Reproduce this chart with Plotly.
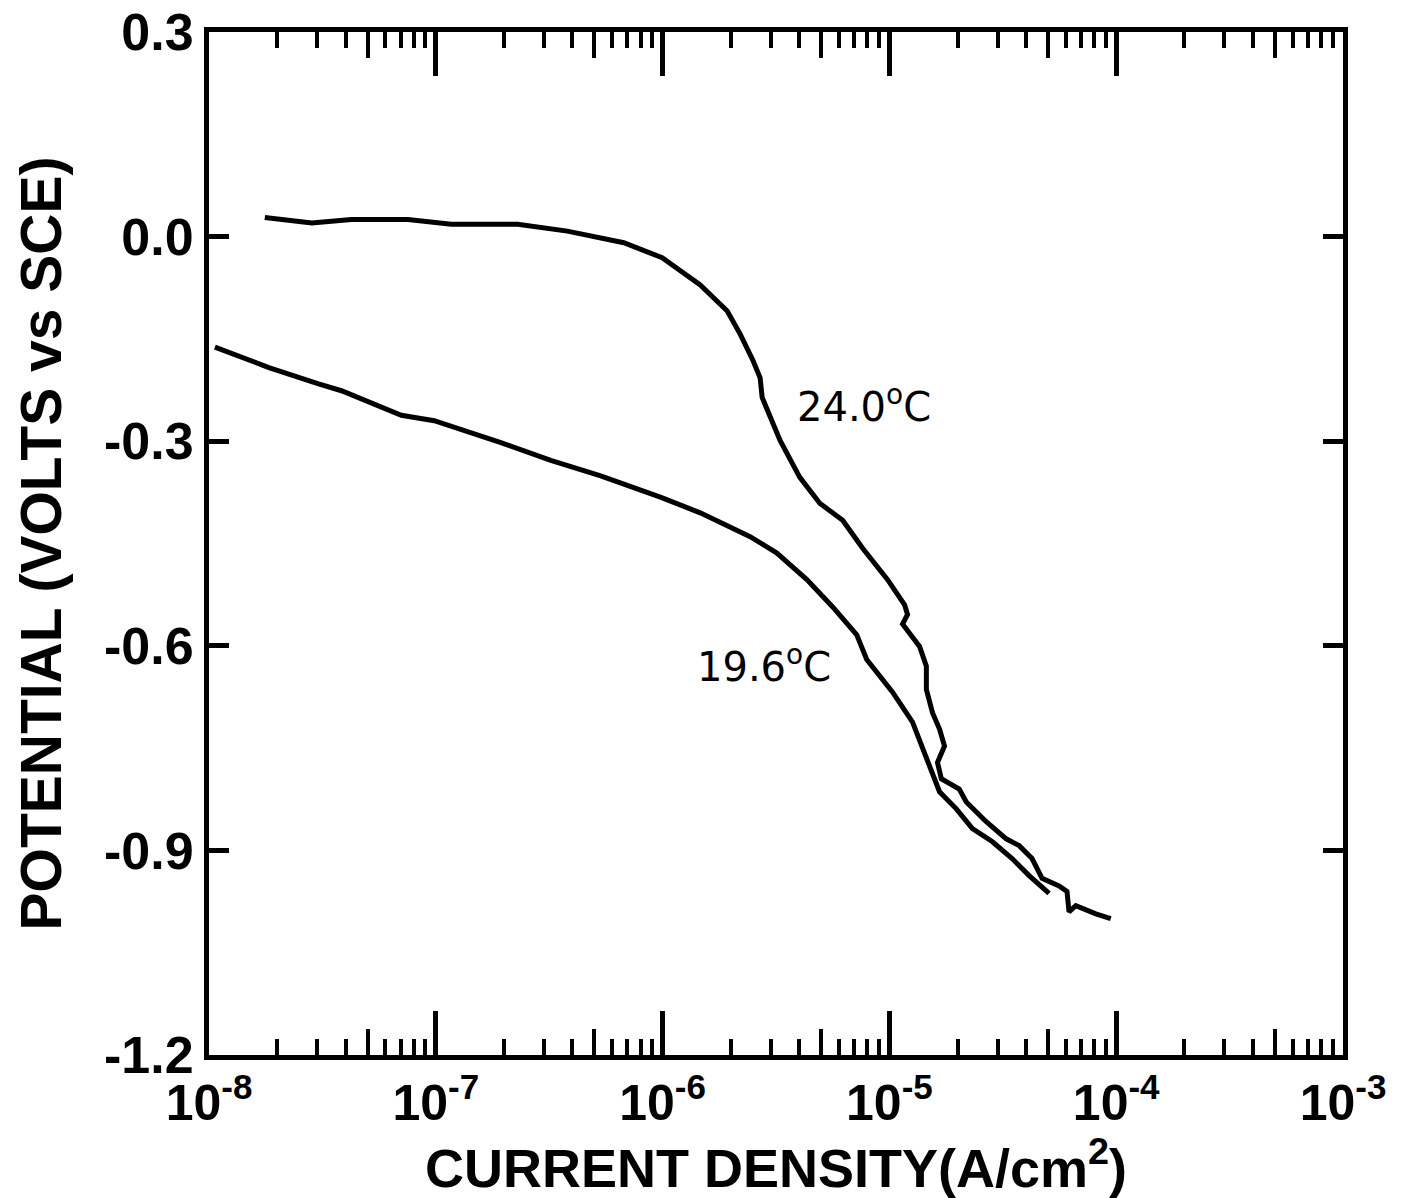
import numpy as np
import plotly.graph_objects as go

# ---- data ----
# 24.0 °C polarization curve: log10 of current density (A/cm^2) and potential (V vs SCE)
t24_log_i = [-7.754, -7.547, -7.372, -7.123, -6.932, -6.639, -6.420, -6.171, -6.002,
             -5.834, -5.715, -5.658, -5.601, -5.570, -5.561, -5.526, -5.482, -5.395,
             -5.307, -5.206, -5.118, -5.008, -4.933, -4.920, -4.942, -4.867, -4.837,
             -4.837, -4.810, -4.779, -4.757, -4.788, -4.771, -4.692, -4.661, -4.573,
             -4.485, -4.428, -4.371, -4.327, -4.252, -4.217, -4.208, -4.178, -4.090,
             -4.024]
t24_potential = [0.028, 0.020, 0.025, 0.025, 0.018, 0.018, 0.008, -0.009, -0.031,
                 -0.071, -0.109, -0.143, -0.182, -0.207, -0.236, -0.265, -0.299, -0.353,
                 -0.391, -0.416, -0.457, -0.503, -0.540, -0.554, -0.568, -0.601, -0.630,
                 -0.664, -0.698, -0.722, -0.747, -0.771, -0.795, -0.810, -0.829, -0.858,
                 -0.883, -0.893, -0.912, -0.941, -0.952, -0.960, -0.990, -0.981, -0.993,
                 -1.000]

# 19.6 °C polarization curve
t196_log_i = [-7.974, -7.736, -7.517, -7.416, -7.152, -7.007, -6.713, -6.493, -6.273,
              -6.010, -5.834, -5.614, -5.496, -5.364, -5.250, -5.144, -5.100, -4.986,
              -4.898, -4.837, -4.779, -4.705, -4.634, -4.547, -4.459, -4.384, -4.296]
t196_potential = [-0.162, -0.192, -0.216, -0.226, -0.262, -0.270, -0.302, -0.328, -0.351,
                  -0.382, -0.405, -0.440, -0.464, -0.503, -0.543, -0.584, -0.620, -0.668,
                  -0.712, -0.762, -0.814, -0.839, -0.868, -0.887, -0.912, -0.937, -0.963]

x_tick_exponents = [-8, -7, -6, -5, -4, -3]
x_tick_labels = ["10<sup>-8</sup>", "10<sup>-7</sup>", "10<sup>-6</sup>",
                 "10<sup>-5</sup>", "10<sup>-4</sup>", "10<sup>-3</sup>"]
y_tick_values = [0.3, 0.0, -0.3, -0.6, -0.9, -1.2]
y_tick_labels = ["0.3", "0.0", "-0.3", "-0.6", "-0.9", "-1.2"]

curve_labels = ["24.0<sup>o</sup>C", "19.6<sup>o</sup>C"]
label_log_i = [-5.417, -5.856]
label_potential = [-0.246, -0.626]

# ---- figure ----
x_major = [10.0 ** e for e in x_tick_exponents]
x_minor = [m * 10.0 ** e for e in x_tick_exponents[:-1] for m in (2, 3, 4, 6, 7, 8, 9)]
x_five = [5 * 10.0 ** e for e in x_tick_exponents[:-1]]

FONT = "Liberation Sans"
fig = go.Figure()
fig.add_trace(go.Scatter(x=[10.0 ** v for v in t24_log_i], y=t24_potential, mode="lines",
                         line=dict(color="black", width=5), showlegend=False))
fig.add_trace(go.Scatter(x=[10.0 ** v for v in t196_log_i], y=t196_potential, mode="lines",
                         line=dict(color="black", width=5), showlegend=False))
# helper trace so the overlay axis (longer ticks at 5x) is drawn
fig.add_trace(go.Scatter(x=[1e-8], y=[None], xaxis="x2", mode="lines",
                         showlegend=False, hoverinfo="skip"))

for txt, lx, ly in zip(curve_labels, label_log_i, label_potential):
    fig.add_annotation(x=lx, y=ly, xref="x", yref="y", text=txt, showarrow=False,
                       xanchor="left", yanchor="middle",
                       font=dict(family="DejaVu Sans", size=40, color="black"))

fig.update_layout(
    width=1408, height=1190, autosize=False,
    margin=dict(l=201, r=73, t=24, b=143, autoexpand=False),
    paper_bgcolor="white", plot_bgcolor="white",
    xaxis=dict(
        type="log", range=[-8, -3], tickmode="array", tickvals=x_major, ticktext=x_tick_labels,
        ticks="inside", ticklen=44, tickwidth=5, tickcolor="black",
        showline=True, linewidth=5, linecolor="black", mirror="ticks",
        showgrid=False, zeroline=False, ticklabeloverflow="allow", automargin=False,
        minor=dict(tickmode="array", tickvals=x_minor, ticks="inside", ticklen=16,
                   tickwidth=4, tickcolor="black", showgrid=False),
        tickfont=dict(family=FONT, size=50, color="black", weight="bold"),
        title=dict(text="CURRENT DENSITY(A/cm<sup>2</sup>)", standoff=6,
                   font=dict(family=FONT, size=54, color="black", weight="bold")),
    ),
    xaxis2=dict(
        type="log", range=[-8, -3], overlaying="x", anchor="y", side="bottom",
        tickmode="array", tickvals=x_five, ticks="inside", ticklen=26, tickwidth=4,
        tickcolor="black", showticklabels=False, showline=False, mirror="ticks",
        showgrid=False, zeroline=False, automargin=False,
    ),
    yaxis=dict(
        range=[-1.2, 0.3], tickmode="array", tickvals=y_tick_values, ticktext=y_tick_labels,
        ticks="inside", ticklen=20, tickwidth=5, tickcolor="black",
        showline=True, linewidth=5, linecolor="black", mirror="ticks",
        showgrid=False, zeroline=False, ticklabeloverflow="allow", automargin=False,
        tickfont=dict(family=FONT, size=52, color="black", weight="bold"),
        title=dict(text="POTENTIAL (VOLTS vs SCE)", standoff=26,
                   font=dict(family=FONT, size=57, color="black", weight="bold")),
    ),
)

fig.write_html("out.html")
